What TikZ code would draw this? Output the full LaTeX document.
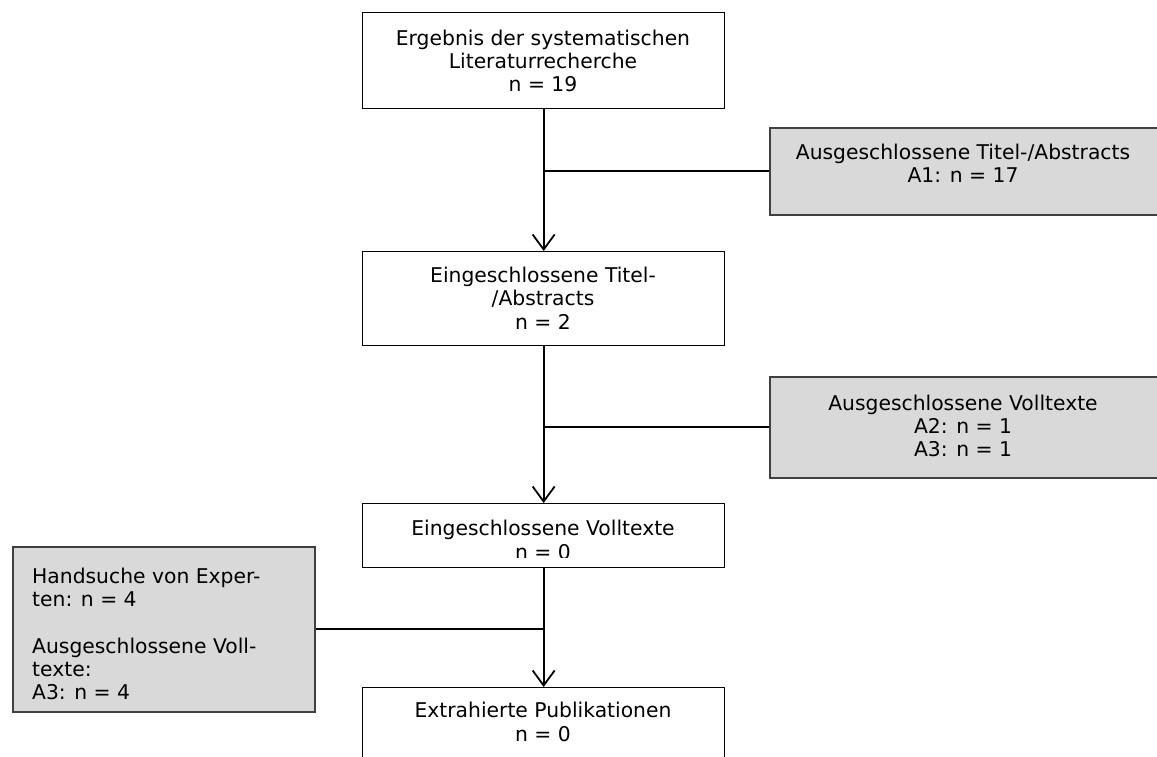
\documentclass[tikz,border=0pt]{standalone}
\usepackage{fontspec}
\setmainfont{DejaVu Sans}
\usetikzlibrary{arrows.meta}
\definecolor{boxgray}{HTML}{D9D9D9}
\definecolor{edgegray}{HTML}{404040}
\begin{document}
\begin{tikzpicture}[x=1pt,y=1pt,
  every node/.style={font=\fontsize{20.3}{23.3}\selectfont},
  box/.style={draw=black, line width=1.3pt, fill=white, inner sep=0pt, anchor=north west},
  greybox/.style={draw=edgegray, line width=1.8pt, fill=boxgray, inner sep=0pt, anchor=north west},
  txt/.style={align=center, inner sep=0pt},
  conn/.style={line width=2pt},
  arr/.style={conn, -{Straight Barb[length=15pt,width=22pt,line width=1.8pt]}}
]
\useasboundingbox (0,0) rectangle (1157,-756);
\clip (0,0) rectangle (1157,-756);

% main column
\node[box, minimum width=362pt, minimum height=96pt] (b1) at (362,-12) {};
\node[box, minimum width=362pt, minimum height=94pt] (b2) at (362,-251) {};
\node[box, minimum width=362pt, minimum height=64pt] (b3) at (362,-503) {};
\node[box, minimum width=362pt, minimum height=72pt] (b4) at (362,-687) {};

% side boxes
\node[greybox, minimum width=392pt, minimum height=87pt] (g1) at (769,-127) {};
\node[greybox, minimum width=392pt, minimum height=101pt] (g2) at (769,-376) {};
\node[greybox, minimum width=302pt, minimum height=165pt] (g3) at (12,-546) {};

% texts
\node[txt] (t1) at (543,-61) {Ergebnis der systematischen\\Literaturrecherche\\n = 19};
\node[txt] (t2) at (543,-298) {Eingeschlossene Titel-\\/Abstracts\\n = 2};
\begin{scope}
  \clip (372,-505) rectangle (714,-557);
  \node[txt] (t3) at (543,-540) {Eingeschlossene Volltexte\\n = 0};
\end{scope}
\node[txt] (t4) at (543,-722) {Extrahierte Publikationen\\n = 0};
\node[txt] (tg1) at (963,-163) {Ausgeschlossene Titel-/Abstracts\\A1: n = 17};
\node[txt] (tg2) at (963,-426) {Ausgeschlossene Volltexte\\A2: n = 1\\A3: n = 1};
\begin{scope}
  \clip (14,-548) rectangle (312,-700);
  \node[align=left, inner sep=0pt, anchor=west] (tg3) at (32,-634)
    {Handsuche von Exper-\\ten: n = 4\\[23.3pt]Ausgeschlossene Voll-\\texte:\\A3: n = 4};
\end{scope}

% connectors
\draw[arr] (b1.south) -- (b2.north);
\draw[conn] (g1.west) -- (g1.west -| b1.south);
\draw[arr] (b2.south) -- (b3.north);
\draw[conn] (g2.west) -- (g2.west -| b2.south);
\draw[arr] (b3.south) -- (b4.north);
\draw[conn] (g3.east) -- (g3.east -| b3.south);
\end{tikzpicture}
\end{document}
